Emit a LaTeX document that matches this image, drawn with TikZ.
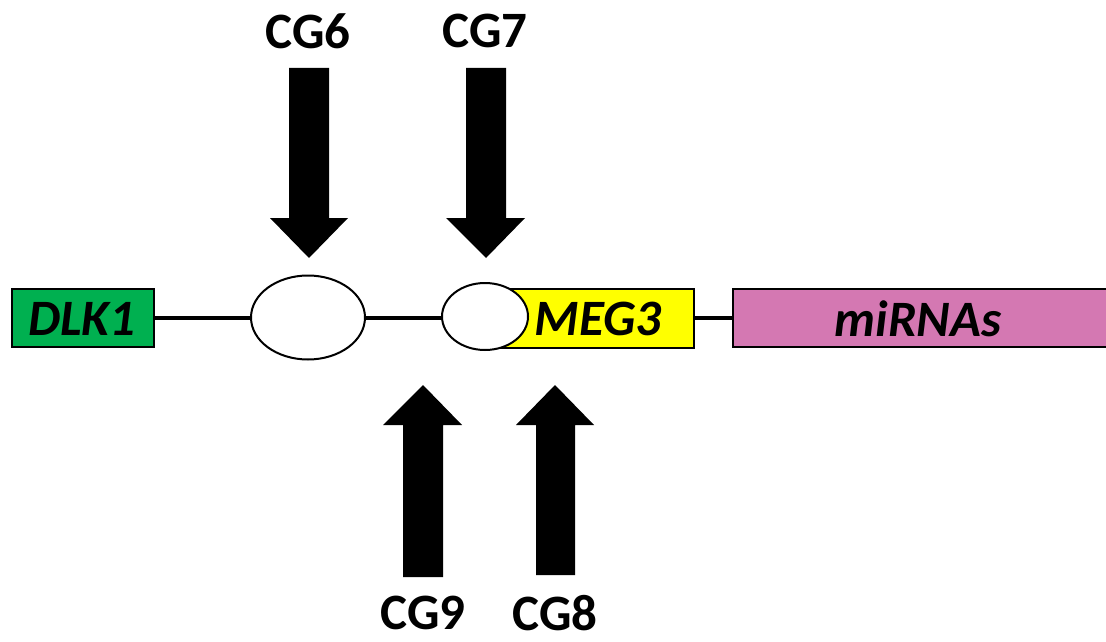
\documentclass[tikz,border=0pt]{standalone}
\usepackage{fontspec}
\setmainfont{Carlito}
\usetikzlibrary{shapes.geometric,backgrounds}
\definecolor{dlkgreen}{RGB}{0,176,80}
\definecolor{megyellow}{RGB}{255,255,0}
\definecolor{mirpink}{RGB}{212,120,178}
\begin{document}
\begin{tikzpicture}[x=1pt,y=-1pt,
  genebox/.style={draw=black, line width=2pt, inner sep=0pt, anchor=north west},
  genetext/.style={font=\fontsize{51}{55}\selectfont\bfseries\itshape},
  cglabel/.style={font=\fontsize{51}{55}\selectfont\bfseries},
  site/.style={draw=black, fill=white, line width=2pt, ellipse, inner sep=0pt},
  blockarrow/.style={fill=black}]
\useasboundingbox (0,0) rectangle (1106,642);
% boxes
\node[genebox, fill=dlkgreen, minimum width=142, minimum height=58] (dlk) at (11,288) {};
\node[genebox, fill=megyellow, minimum width=193, minimum height=59] (meg) at (500,288) {};
\node[genebox, fill=mirpink, minimum width=380, minimum height=58] (mir) at (732,288) {};
% backbone behind
\begin{scope}[on background layer]
\draw[line width=4.5pt] (dlk.east) -- (mir.west);
\end{scope}
\node[genetext] (dlkt) at (82,319) {DLK1};
\node[genetext] (megt) at (598,319) {MEG3};
\node[genetext] (mirt) at (918,319) {miRNAs};
% CpG sites
\node[site, minimum width=114, minimum height=84] (s1) at (308,317.5) {};
\node[site, minimum width=86, minimum height=67] (s2) at (485,316.5) {};
% block arrows
\fill[blockarrow] (289,68) -- (329,68) -- (329,218) -- (348,218) -- (309,258) -- (270,218) -- (289,218) -- cycle;
\fill[blockarrow] (466,68) -- (506,68) -- (506,218) -- (525,218) -- (486,258) -- (446,218) -- (466,218) -- cycle;
\fill[blockarrow] (403,577) -- (443,577) -- (443,425) -- (462,425) -- (423,385) -- (383,425) -- (403,425) -- cycle;
\fill[blockarrow] (536,575) -- (575,575) -- (575,425) -- (594,425) -- (555,385) -- (516,425) -- (536,425) -- cycle;
% labels
\node[cglabel] (cg6) at (308,31) {CG6};
\node[cglabel] (cg7) at (485,31) {CG7};
\node[cglabel] (cg9) at (423,613) {CG9};
\node[cglabel] (cg8) at (555,613) {CG8};
\end{tikzpicture}
\end{document}
